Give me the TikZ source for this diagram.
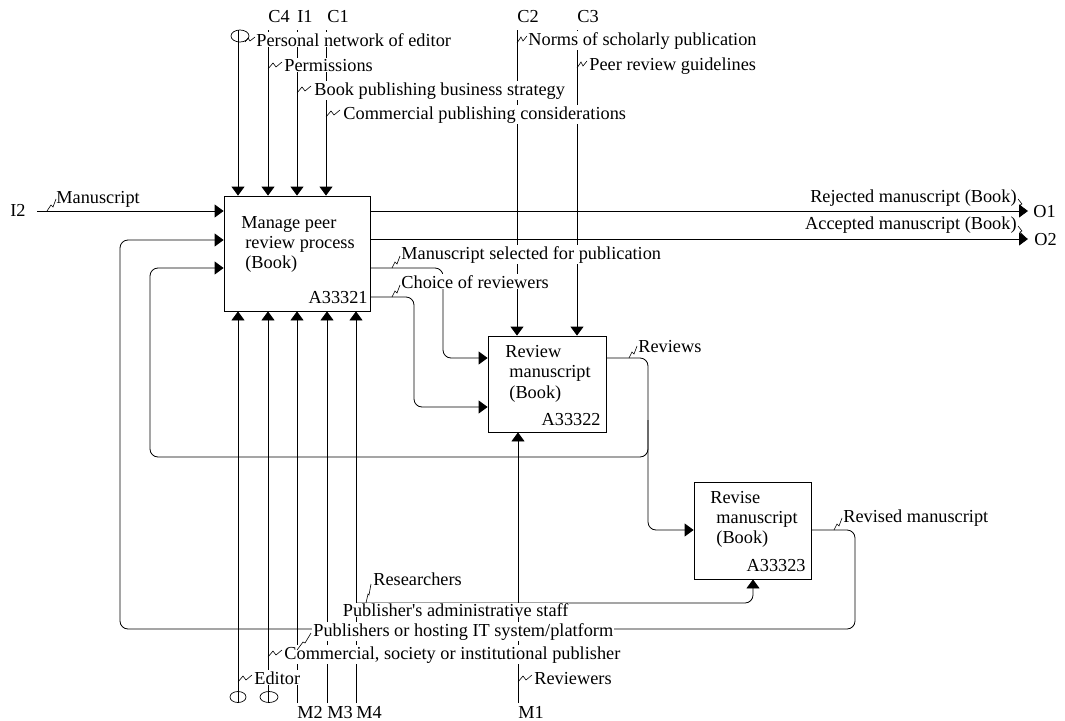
\documentclass[tikz,border=0pt]{standalone}
\usepackage{fontspec}
\setmainfont{Liberation Serif}
\usetikzlibrary{arrows.meta}
\begin{document}
\begin{tikzpicture}[x=1pt,y=-1pt,
  font=\fontsize{18.3pt}{20.5pt}\selectfont,
  line width=0.8pt,
  arr/.style={-{Triangle[length=9pt,width=13pt]}},
  rc/.style={rounded corners=8pt},
  procbox/.style={draw, rectangle, inner sep=0pt, line width=0.8pt},
  lbl/.style={fill=white, inner sep=1pt, anchor=base west},
  lble/.style={fill=white, inner sep=1pt, anchor=base east},
  txt/.style={inner sep=0pt, anchor=base west},
  txte/.style={inner sep=0pt, anchor=base east},
  sq/.style={line width=0.6pt},
  tun/.style={line width=0.7pt}]
\useasboundingbox (0,0) rectangle (1065,720);

% boxes
\node[procbox, minimum width=146pt, minimum height=115pt] (b1) at (297,253.5) {};
\node[procbox, minimum width=118pt, minimum height=96pt] (b2) at (547,384) {};
\node[procbox, minimum width=117pt, minimum height=97pt] (b3) at (752.5,530.5) {};

% coordinates
\coordinate (tPN) at (238,30);
\coordinate (tC4) at (268,30);
\coordinate (tI1) at (297,30);
\coordinate (tC1) at (326,30);
\coordinate (tC2) at (517,30);
\coordinate (tC3) at (577,30);
\coordinate (bE) at (238,703);
\coordinate (bCS) at (268,703);
\coordinate (bM2) at (297,703);
\coordinate (bM3) at (327,703);
\coordinate (bM4) at (356,703);
\coordinate (bM1) at (518,703);
\coordinate (iI2) at (37,211);
\coordinate (oO1) at (1028,211);
\coordinate (oO2) at (1028,239);
\coordinate (ms1) at (443,268);
\coordinate (ms2) at (443,358);
\coordinate (ch1) at (414,297);
\coordinate (ch2) at (414,407);
\coordinate (rv1) at (648,358);
\coordinate (rv2) at (648,530);
\coordinate (rvm) at (648,420);
\coordinate (rv3) at (648,457);
\coordinate (rv4) at (150,457);
\coordinate (rv5) at (150,268);
\coordinate (rs1) at (855,530);
\coordinate (rs2) at (855,629);
\coordinate (rs3) at (120,629);
\coordinate (rs4) at (120,240);
\coordinate (rj) at (356,603);
\coordinate (rj2) at (753,603);

% controls / inputs from top
\draw[arr] (tPN) -- (tPN |- b1.north);
\draw[arr] (tC4) -- (tC4 |- b1.north);
\draw[arr] (tI1) -- (tI1 |- b1.north);
\draw[arr] (tC1) -- (tC1 |- b1.north);
\draw[arr] (tC2) -- (tC2 |- b2.north);
\draw[arr] (tC3) -- (tC3 |- b2.north);
% mechanisms from bottom
\draw[arr] (bE) -- (bE |- b1.south);
\draw[arr] (bCS) -- (bCS |- b1.south);
\draw[arr] (bM2) -- (bM2 |- b1.south);
\draw[arr] (bM3) -- (bM3 |- b1.south);
\draw[arr] (bM4) -- (bM4 |- b1.south);
\draw[arr] (bM1) -- (bM1 |- b2.south);
% inputs / outputs
\draw[arr] (iI2) -- (iI2 -| b1.west);
\draw[arr] (oO1 -| b1.east) -- (oO1);
\draw[arr] (oO2 -| b1.east) -- (oO2);
\draw[arr, rc] (ms1 -| b1.east) -- (ms1) -- (ms2) -- (ms2 -| b2.west);
\draw[arr, rc] (ch1 -| b1.east) -- (ch1) -- (ch2) -- (ch2 -| b2.west);
\draw[arr, rc] (rv1 -| b2.east) -- (rv1) -- (rv2) -- (rv2 -| b3.west);
\draw[arr, rc] (rvm) -- (rv3) -- (rv4) -- (rv5) -- (rv5 -| b1.west);
\draw[arr, rc] (rs1 -| b3.east) -- (rs1) -- (rs2) -- (rs3) -- (rs4) -- (rs4 -| b1.west);
\draw[arr, rc] (rj) -- (rj2) -- (rj2 |- b3.south);

% tunnels
\draw[tun] (240,36) ellipse [x radius=9, y radius=6];
\draw[tun] (238,697) ellipse [x radius=8, y radius=5.5];
\draw[tun] (269,697) ellipse [x radius=9, y radius=5.5];

% top labels
\node[lbl] (lPN) at (255,46) {Personal network of editor};
\node[lbl] (lPe) at (283,71) {Permissions};
\node[lbl] (lBo) at (313,95) {Book publishing business strategy};
\node[lbl] (lCo) at (342,119) {Commercial publishing considerations};
\node[lbl] (lNo) at (527,45) {Norms of scholarly publication};
\node[lbl] (lPr) at (588,70) {Peer review guidelines};
% arrow labels
\node[lbl] (lMa) at (55,203) {Manuscript};
\node[lble] (lRj) at (1018,202) {Rejected manuscript (Book)};
\node[lble] (lAc) at (1018,229) {Accepted manuscript (Book)};
\node[lbl] (lMs) at (400,259) {Manuscript selected for publication};
\node[lbl] (lCh) at (400,288) {Choice of reviewers};
\node[lbl] (lRv) at (637,352) {Reviews};
\node[lbl] (lRs) at (842,522) {Revised manuscript};
% bottom labels
\node[lbl] (lRe) at (372,585) {Researchers};
\node[lbl, inner sep=0.5pt] (lAd) at (342,616) {Publisher\textquotesingle s administrative staff};
\node[lbl] (lIT) at (312,636) {Publishers or hosting IT system/platform};
\node[lbl] (lCS) at (283,659) {Commercial, society or institutional publisher};
\node[lbl] (lEd) at (253,684) {Editor};
\node[lbl] (lRw) at (533,684) {Reviewers};

% squiggles
\draw[sq] (245,42) -- (248,38) -- (250,41) -- (255,37);
\draw[sq] (268,69) -- (273,63) -- (276,67) -- (282,62);
\draw[sq] (297,93) -- (302,87) -- (305,91) -- (311,86);
\draw[sq] (326,117) -- (331,111) -- (334,115) -- (340,110);
\draw[sq] (517,43) -- (521,37) -- (523,41) -- (527,36);
\draw[sq] (577,68) -- (581,62) -- (583,66) -- (587,61);
\draw[sq] (47,211) -- (51,205) -- (53,207) -- (56,199);
\draw[sq] (392,268) -- (395,262) -- (397,264) -- (400,256);
\draw[sq] (392,297) -- (395,291) -- (397,293) -- (400,285);
\draw[sq] (629,358) -- (632,352) -- (634,354) -- (637,346);
\draw[sq] (834,530) -- (837,524) -- (839,526) -- (842,518);
\draw[sq] (1018,199) -- (1022,204) -- (1020,205) -- (1025,210);
\draw[sq] (1018,226) -- (1022,231) -- (1020,232) -- (1025,237);
\draw[sq] (366,603) -- (368,594) -- (369,595) -- (371,584);
\draw[sq] (297,650) -- (303,642) -- (305,643) -- (311,633);
\draw[sq] (268,657) -- (273,651) -- (276,655) -- (282,650);
\draw[sq] (238,682) -- (243,676) -- (246,680) -- (252,675);
\draw[sq] (518,682) -- (523,676) -- (526,680) -- (532,675);

% box texts
\node[txt] (b1a) at (241,228) {Manage peer};
\node[txt] (b1b) at (245,248) {review process};
\node[txt] (b1c) at (245,268) {(Book)};
\node[txte] (b1n) at (368,303) {A33321};
\node[txt] (b2a) at (505,357) {Review};
\node[txt] (b2b) at (509,377) {manuscript};
\node[txt] (b2c) at (509,398) {(Book)};
\node[txte] (b2n) at (601,425) {A33322};
\node[txt] (b3a) at (710,503) {Revise};
\node[txt] (b3b) at (716,523) {manuscript};
\node[txt] (b3c) at (716,543) {(Book)};
\node[txte] (b3n) at (806,571) {A33323};

% ICOM codes
\node[txt] (cC4) at (268,22) {C4};
\node[txt] (cI1) at (297,22) {I1};
\node[txt] (cC1) at (327,22) {C1};
\node[txt] (cC2) at (517,22) {C2};
\node[txt] (cC3) at (577,22) {C3};
\node[txt] (cI2) at (10,216) {I2};
\node[txt] (cO1) at (1033,217) {O1};
\node[txt] (cO2) at (1034,245) {O2};
\node[txt] (cM2) at (297,718) {M2};
\node[txt] (cM3) at (327,718) {M3};
\node[txt] (cM4) at (356,718) {M4};
\node[txt] (cM1) at (518,718) {M1};
\end{tikzpicture}
\end{document}
